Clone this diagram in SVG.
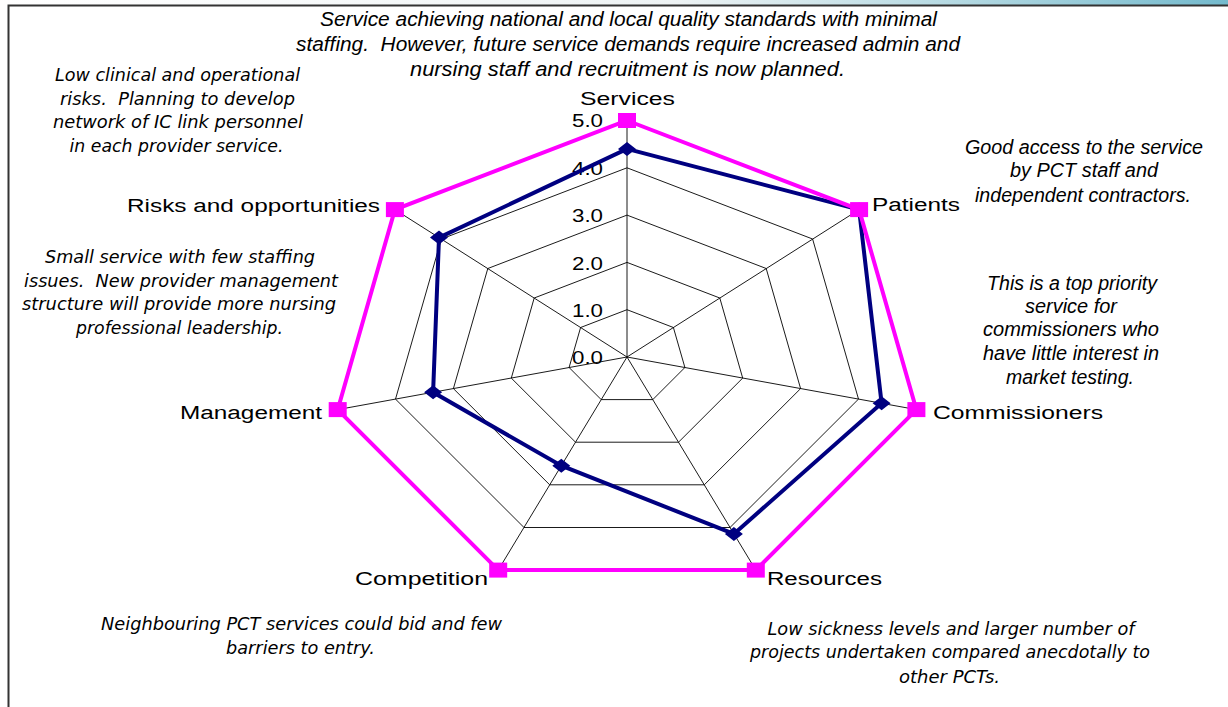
<svg xmlns="http://www.w3.org/2000/svg" width="1228" height="707" viewBox="0 0 1228 707">
<defs>
<linearGradient id="topband" x1="0" y1="0" x2="1" y2="0">
<stop offset="0" stop-color="#ffffff"/>
<stop offset="0.55" stop-color="#eef3f4"/>
<stop offset="0.78" stop-color="#b4d9e2"/>
<stop offset="1" stop-color="#74bacd"/>
</linearGradient>
<path id="dia" d="M0,-7 L9,0 L0,7 L-9,0 Z" fill="#000080"/>
<rect id="sq" x="-9" y="-7.5" width="18" height="15" fill="#ff00ff"/>
</defs>
<style>
.grid{fill:none;stroke:#000;stroke-width:0.9}
.ax{font-family:"Liberation Sans",Arial,sans-serif;font-size:18px;fill:#000}
.it{font-family:"Liberation Sans",Arial,sans-serif;font-size:20px;font-style:italic;fill:#000;text-anchor:middle;white-space:pre}
.tt{font-family:"DejaVu Sans","Liberation Sans",sans-serif;font-size:18px;font-style:italic;fill:#000;text-anchor:middle;white-space:pre}
</style>
<rect width="1228" height="707" fill="#fff"/>
<rect x="0" y="0" width="1228" height="5" fill="url(#topband)"/>
<path d="M8.5,707 V5.5 H1228" fill="none" stroke="#333" stroke-width="2"/>

<g id="grid">
<polygon class="grid" points="627,309.7 673.4,327.5 684.9,367.5 652.8,399.6 601.2,399.6 569.1,367.5 580.6,327.5"/>
<polygon class="grid" points="627,262.4 719.8,298.0 742.7,378.1 678.5,442.2 575.5,442.2 511.3,378.1 534.2,298.0"/>
<polygon class="grid" points="627,215.1 766.2,268.5 800.6,388.6 704.3,484.8 549.7,484.8 453.4,388.6 487.8,268.5"/>
<polygon class="grid" points="627,167.8 812.6,239.0 858.5,399.1 730.0,527.5 524.0,527.5 395.5,399.1 441.4,239.0"/>
<polygon class="grid" points="627,120.5 859.1,209.6 916.4,409.6 755.8,570.1 498.2,570.1 337.7,409.6 394.9,209.6"/>
<path class="grid" d="M627,357 L627,120.5 M627,357 L859.1,209.6 M627,357 L916.4,409.6 M627,357 L755.8,570.1 M627,357 L498.2,570.1 M627,357 L337.7,409.6 M627,357 L394.9,209.6"/>
</g>

<g id="scale-labels" class="ax" text-anchor="end">
<text x="603" y="127" textLength="31" lengthAdjust="spacingAndGlyphs">5.0</text>
<text x="603" y="175" textLength="31" lengthAdjust="spacingAndGlyphs">4.0</text>
<text x="603" y="222" textLength="31" lengthAdjust="spacingAndGlyphs">3.0</text>
<text x="603" y="270" textLength="31" lengthAdjust="spacingAndGlyphs">2.0</text>
<text x="603" y="317" textLength="31" lengthAdjust="spacingAndGlyphs">1.0</text>
<text x="603" y="364" textLength="31" lengthAdjust="spacingAndGlyphs">0.0</text>
</g>

<g id="series-actual">
<polygon points="627,148.9 859.1,209.6 881.6,403.3 733.9,533.9 561.3,465.7 433.1,392.3 439.0,237.6" fill="none" stroke="#000080" stroke-width="4" stroke-linejoin="miter"/>
<use href="#dia" x="627" y="148.9"/>
<use href="#dia" x="859.1" y="209.6"/>
<use href="#dia" x="881.6" y="403.3"/>
<use href="#dia" x="733.9" y="533.9"/>
<use href="#dia" x="561.3" y="465.7"/>
<use href="#dia" x="433.1" y="392.3"/>
<use href="#dia" x="439.0" y="237.6"/>
</g>

<g id="series-target">
<polygon points="627,120.5 859.1,209.6 916.4,409.6 755.8,570.1 498.2,570.1 337.7,409.6 394.9,209.6" fill="none" stroke="#ff00ff" stroke-width="4"/>
<use href="#sq" x="627" y="120.5"/>
<use href="#sq" x="859.1" y="209.6"/>
<use href="#sq" x="916.4" y="409.6"/>
<use href="#sq" x="755.8" y="570.1"/>
<use href="#sq" x="498.2" y="570.1"/>
<use href="#sq" x="337.7" y="409.6"/>
<use href="#sq" x="394.9" y="209.6"/>
</g>

<g id="axis-services"><text class="ax" x="627.5" y="105" text-anchor="middle" textLength="95" lengthAdjust="spacingAndGlyphs">Services</text></g>
<g id="axis-patients"><text class="ax" x="872" y="211" textLength="88" lengthAdjust="spacingAndGlyphs">Patients</text></g>
<g id="axis-commissioners"><text class="ax" x="933" y="419" textLength="170" lengthAdjust="spacingAndGlyphs">Commissioners</text></g>
<g id="axis-resources"><text class="ax" x="767" y="585" textLength="115" lengthAdjust="spacingAndGlyphs">Resources</text></g>
<g id="axis-competition"><text class="ax" x="355" y="585" textLength="133" lengthAdjust="spacingAndGlyphs">Competition</text></g>
<g id="axis-management"><text class="ax" x="180" y="419" textLength="142" lengthAdjust="spacingAndGlyphs">Management</text></g>
<g id="axis-risks"><text class="ax" x="127" y="212" textLength="253" lengthAdjust="spacingAndGlyphs">Risks and opportunities</text></g>

<g id="note-services">
<text class="it" x="628.5" y="26" textLength="617" lengthAdjust="spacingAndGlyphs">Service achieving national and local quality standards with minimal</text>
<text class="it" x="628" y="51" textLength="664" lengthAdjust="spacingAndGlyphs">staffing.  However, future service demands require increased admin and</text>
<text class="it" x="627.5" y="76" textLength="435" lengthAdjust="spacingAndGlyphs">nursing staff and recruitment is now planned.</text>
</g>
<g id="note-risks">
<text class="tt" x="177.5" y="81" textLength="245" lengthAdjust="spacingAndGlyphs">Low clinical and operational</text>
<text class="tt" x="177.5" y="105" textLength="235" lengthAdjust="spacingAndGlyphs">risks.  Planning to develop</text>
<text class="tt" x="178" y="128" textLength="250" lengthAdjust="spacingAndGlyphs">network of IC link personnel</text>
<text class="tt" x="176.5" y="152" textLength="214" lengthAdjust="spacingAndGlyphs">in each provider service.</text>
</g>
<g id="note-management">
<text class="tt" x="180" y="263" textLength="270" lengthAdjust="spacingAndGlyphs">Small service with few staffing</text>
<text class="tt" x="181" y="287" textLength="314" lengthAdjust="spacingAndGlyphs">issues.  New provider management</text>
<text class="tt" x="179" y="310" textLength="314" lengthAdjust="spacingAndGlyphs">structure will provide more nursing</text>
<text class="tt" x="179.5" y="334" textLength="207" lengthAdjust="spacingAndGlyphs">professional leadership.</text>
</g>
<g id="note-patients">
<text class="it" x="1084" y="154" textLength="238" lengthAdjust="spacingAndGlyphs">Good access to the service</text>
<text class="it" x="1084" y="177" textLength="148" lengthAdjust="spacingAndGlyphs">by PCT staff and</text>
<text class="it" x="1083" y="202" textLength="216" lengthAdjust="spacingAndGlyphs">independent contractors.</text>
</g>
<g id="note-commissioners">
<text class="it" x="1072" y="290" textLength="170" lengthAdjust="spacingAndGlyphs">This is a top priority</text>
<text class="it" x="1071" y="313" textLength="92" lengthAdjust="spacingAndGlyphs">service for</text>
<text class="it" x="1071" y="336" textLength="176" lengthAdjust="spacingAndGlyphs">commissioners who</text>
<text class="it" x="1071" y="360" textLength="176" lengthAdjust="spacingAndGlyphs">have little interest in</text>
<text class="it" x="1070" y="384" textLength="128" lengthAdjust="spacingAndGlyphs">market testing.</text>
</g>
<g id="note-competition">
<text class="tt" x="301.5" y="630" textLength="401" lengthAdjust="spacingAndGlyphs">Neighbouring PCT services could bid and few</text>
<text class="tt" x="300.5" y="654" textLength="149" lengthAdjust="spacingAndGlyphs">barriers to entry.</text>
</g>
<g id="note-resources">
<text class="tt" x="951" y="635" textLength="367" lengthAdjust="spacingAndGlyphs">Low sickness levels and larger number of</text>
<text class="tt" x="950" y="658" textLength="400" lengthAdjust="spacingAndGlyphs">projects undertaken compared anecdotally to</text>
<text class="tt" x="949.5" y="683" textLength="101" lengthAdjust="spacingAndGlyphs">other PCTs.</text>
</g>
</svg>
